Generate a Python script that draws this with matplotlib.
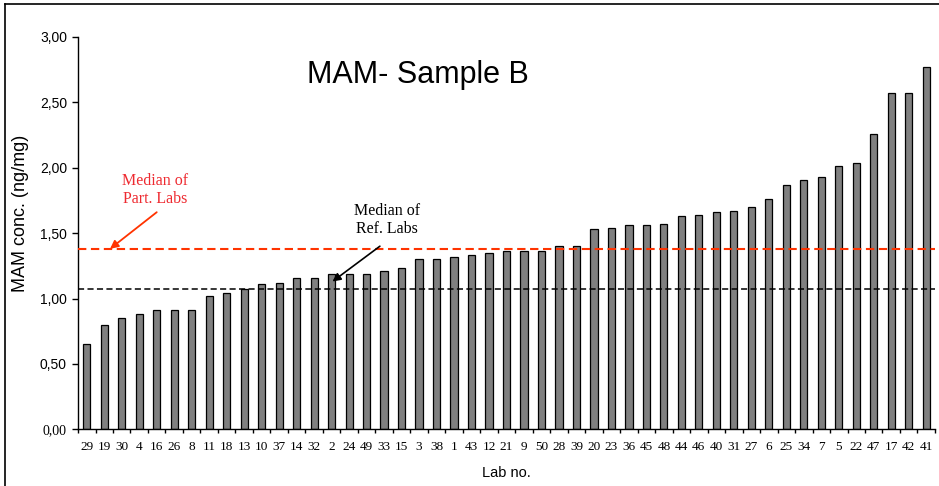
"""
MAM 농도 막대그래프 (Sample B), 참여기관 / 기준기관 중앙값 표시.
"""
import matplotlib
matplotlib.use("Agg")
import matplotlib.pyplot as plt
from matplotlib.lines import Line2D
import numpy as np

SANS = "Liberation Sans"
SERIF = "Liberation Serif"

LABS = ["29", "19", "30", "4", "16", "26", "8", "11", "18", "13", "10", "37",
        "14", "32", "2", "24", "49", "33", "15", "3", "38", "1", "43", "12",
        "21", "9", "50", "28", "39", "20", "23", "36", "45", "48", "44", "46",
        "40", "31", "27", "6", "25", "34", "7", "5", "22", "47", "17", "42", "41"]
MAM = [0.65, 0.80, 0.85, 0.88, 0.91, 0.91, 0.91, 1.02, 1.04, 1.07, 1.11, 1.12,
       1.16, 1.16, 1.19, 1.19, 1.19, 1.21, 1.23, 1.30, 1.30, 1.32, 1.33, 1.35,
       1.36, 1.36, 1.36, 1.40, 1.40, 1.53, 1.54, 1.56, 1.56, 1.57, 1.63, 1.64,
       1.66, 1.67, 1.70, 1.76, 1.87, 1.91, 1.93, 2.01, 2.04, 2.26, 2.57, 2.57, 2.77]
MEDIAN_PART = 1.38
MEDIAN_REF = 1.07
Y_TICKS = [0.0, 0.5, 1.0, 1.5, 2.0, 2.5, 3.0]

RED_LINE = "#FF3300"
RED_TEXT = "#EE2A30"


def main():
    fig = plt.figure(figsize=(9.39, 4.86), dpi=100)
    ax = fig.add_axes([0.0831, 0.1167, 0.9126, 0.8072])

    x = np.arange(len(MAM))
    ax.bar(x, MAM, width=0.41, color="#808080", edgecolor="black",
           linewidth=0.9, zorder=2)

    ax.axhline(MEDIAN_PART, color=RED_LINE, linestyle=(0, (4, 2.2)),
               linewidth=1.5, zorder=3)
    ax.axhline(MEDIAN_REF, color="black", linestyle=(0, (4, 2.2)),
               linewidth=1.1, zorder=3)

    ax.set_xlim(-0.5, len(MAM) - 0.5)
    ax.set_ylim(0, 3)
    for s in ("top", "right"):
        ax.spines[s].set_visible(False)
    ax.spines["left"].set_linewidth(1.0)
    ax.spines["bottom"].set_linewidth(1.0)

    # y축: 쉼표 소수점
    ax.set_yticks(Y_TICKS)
    ax.set_yticklabels([f"{v:.2f}".replace(".", ",") for v in Y_TICKS],
                       fontsize=10, family=SANS)
    ax.get_yticklabels()[0].set_family(SERIF)
    ax.tick_params(axis="y", direction="out", length=4, width=1.0, pad=4)

    # x축: 라벨은 막대 중앙, 눈금은 막대 사이
    ax.set_xticks(x)
    ax.set_xticklabels(LABS, fontsize=9.5, family=SERIF)
    ax.set_xticks(np.arange(len(MAM) + 1) - 0.5, minor=True)
    ax.tick_params(axis="x", which="major", length=0, pad=8.5)
    ax.tick_params(axis="x", which="minor", direction="out", length=3.2, width=1.0)

    ax.set_xlabel("Lab no.", fontsize=10.5, family=SANS, labelpad=9)
    fig.text(0.0215, 0.561, "MAM conc. (ng/mg)", rotation=90, ha="center",
             va="center", fontsize=13, family=SANS)

    ax.text(0.397, 0.904, "MAM- Sample B", transform=ax.transAxes,
            ha="center", va="center", fontsize=22, family=SANS)

    # 중앙값 주석
    ax.text(3.93, 1.83, "Median of\nPart. Labs", ha="center", va="center",
            fontsize=11.5, family=SERIF, color=RED_TEXT, linespacing=1.15)
    ax.annotate("", xy=(1.33, MEDIAN_PART), xytext=(4.0, 1.66),
                arrowprops=dict(arrowstyle="-|>", color=RED_LINE, lw=1.3,
                                mutation_scale=12, shrinkA=0, shrinkB=0))
    ax.text(17.19, 1.60, "Median of\nRef. Labs", ha="center", va="center",
            fontsize=11.5, family=SERIF, color="black", linespacing=1.15)
    ax.annotate("", xy=(14.05, 1.13), xytext=(16.76, 1.40),
                arrowprops=dict(arrowstyle="-|>", color="black", lw=1.2,
                                mutation_scale=12, shrinkA=0, shrinkB=0))

    # 차트 영역 테두리 (위, 왼쪽)
    W, H = 939, 486
    fig.add_artist(Line2D([5 / W, 1.0], [1 - 4 / H, 1 - 4 / H],
                          transform=fig.transFigure, color="black", lw=1.2))
    fig.add_artist(Line2D([5 / W, 5 / W], [1 - 4 / H, 0.0],
                          transform=fig.transFigure, color="black", lw=1.2))

    fig.savefig("out.png", dpi=100)
    plt.close(fig)


if __name__ == "__main__":
    main()
